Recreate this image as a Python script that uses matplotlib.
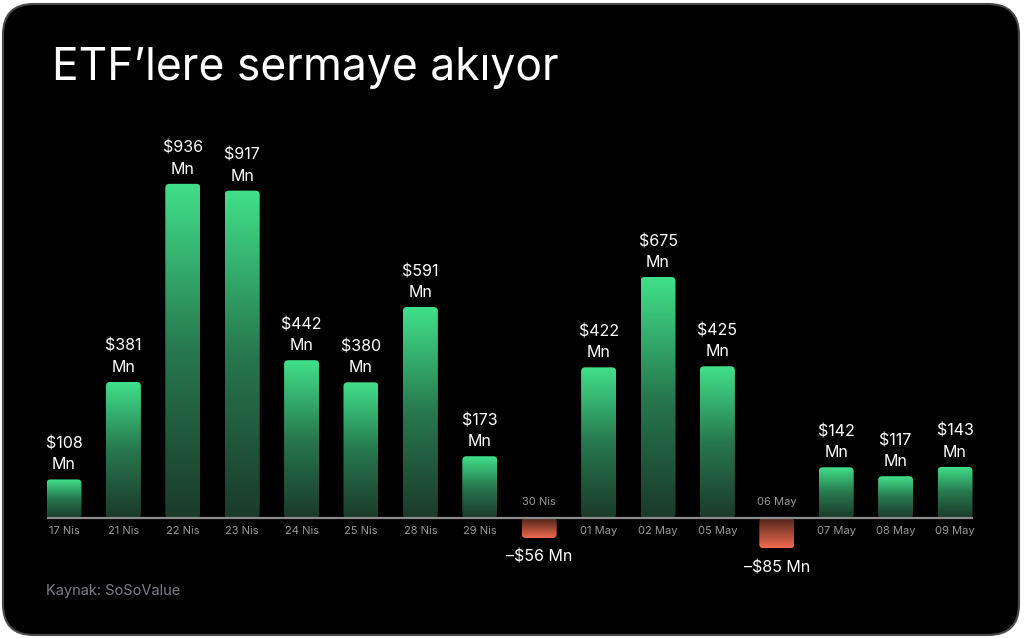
import numpy as np
import matplotlib
matplotlib.use('Agg')
import matplotlib.pyplot as plt
from matplotlib.patches import FancyBboxPatch
from matplotlib.colors import LinearSegmentedColormap

plt.rcParams['font.family'] = ['Inter', 'DejaVu Sans']

dates = ['17 Nis', '21 Nis', '22 Nis', '23 Nis', '24 Nis', '25 Nis', '28 Nis', '29 Nis',
         '30 Nis', '01 May', '02 May', '05 May', '06 May', '07 May', '08 May', '09 May']
flows = [108, 381, 936, 917, 442, 380, 591, 173, -56, 422, 675, 425, -85, 142, 117, 143]
title = 'ETF\u2019lere sermaye akıyor'
source = 'Kaynak: SoSoValue'

W, H = 1024, 638
fig = plt.figure(figsize=(W / 100, H / 100), dpi=100)
fig.patch.set_facecolor('white')

# black card
card = FancyBboxPatch((3 / W, 3 / H), 1016 / W, 631 / H,
                      boxstyle='round,pad=0,rounding_size=0.03',
                      transform=fig.transFigure, facecolor='black',
                      edgecolor='#4a4a4a', linewidth=1.5,
                      mutation_aspect=W / H, zorder=-5)
fig.patches.append(card)

ax = fig.add_axes([0, 0, 1, 1])
ax.set_zorder(2)
ax.set_facecolor('none')
ax.axis('off')

# map data -> pixels: bar i centre at 64 + 59.4*i, baseline at y=518 px, 0.357 px per $Mn
step, x0 = 59.4, 64
scale = 0.357
xlim = (-x0 / step, (W - x0) / step)
ylim = (-(H - 518) / scale, 518 / scale)

x = np.arange(len(flows))
width = 35 / step
bars = ax.bar(x, flows, width=width, color='none')

green = LinearSegmentedColormap.from_list('g', ['#1b3a2b', '#27784e', '#41e08a'])
red = LinearSegmentedColormap.from_list('r', ['#4a2219', '#f26b4f'])
grad = np.linspace(0, 1, 256).reshape(-1, 1)

for b, v in zip(bars, flows):
    bx, by = b.get_x(), b.get_y()
    bw, bh = b.get_width(), b.get_height()
    y_lo, y_hi = min(by, by + bh), max(by, by + bh)
    patch = FancyBboxPatch((bx, y_lo), bw, y_hi - y_lo,
                           boxstyle='round,pad=0,rounding_size=0.07',
                           mutation_aspect=(step / scale),
                           facecolor='none', edgecolor='none')
    ax.add_patch(patch)
    cmap = green if v >= 0 else red
    g = grad if v >= 0 else grad[::-1]
    im = ax.imshow(g, cmap=cmap, origin='lower', aspect='auto',
                   extent=(bx, bx + bw, y_lo, y_hi), zorder=2)
    im.set_clip_path(patch)

ax.set_xlim(*xlim)
ax.set_ylim(*ylim)

ax.hlines(0, x[0] - width / 2, x[-1] + width / 2, color='#8c8c8c', lw=1.6, zorder=3)

px = 1 / scale  # one pixel in data units
for xi, v, d in zip(x, flows, dates):
    if v >= 0:
        ax.text(xi, v + 7 * px, f'${v}\nMn', ha='center', va='bottom', color='white',
                fontsize=11.5, linespacing=1.5)
        ax.text(xi, -13 * px, d, ha='center', va='center', color='#9a9a9a', fontsize=8)
    else:
        ax.text(xi, v - 12 * px, f'\u2013${-v} Mn', ha='center', va='top', color='white',
                fontsize=11.5)
        ax.text(xi, 16 * px, d, ha='center', va='center', color='#9a9a9a', fontsize=8)

fig.text(52 / W, 1 - 68 / H, title, color='white', fontsize=32, ha='left', va='center')
fig.text(46 / W, 1 - 591 / H, source, color='#7e7e88', fontsize=10.5, ha='left', va='center')

fig.savefig('out.png', dpi=100, facecolor='white')
